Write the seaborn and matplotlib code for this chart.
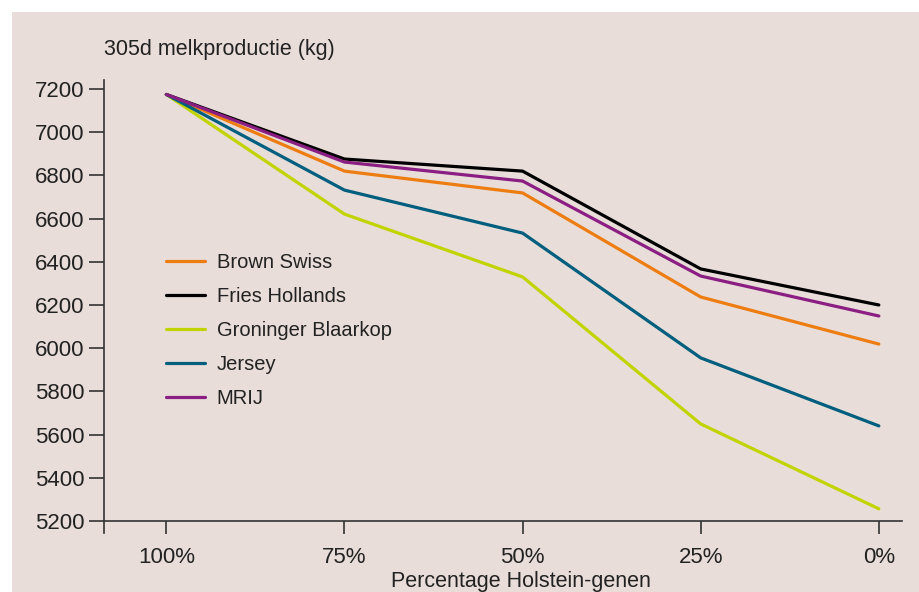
import matplotlib
matplotlib.use("Agg")
import matplotlib.pyplot as plt
from matplotlib.patches import Rectangle
import numpy as np
import pandas as pd
import seaborn as sns

## --- data
categories = ['100%', '75%', '50%', '25%', '0%']
brown_swiss = [7175, 6820, 6719, 6237, 6019]
fries_hollands = [7175, 6876, 6820, 6367, 6200]
groninger_blaarkop = [7175, 6621, 6330, 5649, 5256]
jersey = [7175, 6732, 6533, 5955, 5640]
mrij = [7175, 6862, 6774, 6334, 6149]
y_ticks = [5200, 5400, 5600, 5800, 6000, 6200, 6400, 6600, 6800, 7000, 7200]

breeds = ['Brown Swiss', 'Fries Hollands', 'Groninger Blaarkop', 'Jersey', 'MRIJ']
series = [brown_swiss, fries_hollands, groninger_blaarkop, jersey, mrij]
colors = ['#ee7d11', '#000000', '#c2d400', '#005e7e', '#8b1e83']

rows = []
for name, vals in zip(breeds, series):
    for i, v in enumerate(vals):
        rows.append({'pos': i, 'kg': v, 'ras': name})
df = pd.DataFrame(rows)

sns.set_theme(style='ticks')
plt.rcParams['font.family'] = ['Liberation Sans', 'DejaVu Sans']

bg = '#e8ddd8'
fig = plt.figure(figsize=(9.19, 5.92), dpi=100, facecolor='white')
fig.patches.append(Rectangle((12 / 919, 0), 1, 1 - 12 / 592,
                             transform=fig.transFigure, facecolor=bg,
                             edgecolor='none', zorder=-10))

ax = fig.add_axes([104 / 919, 59 / 592, (902 - 104) / 919, (533 - 80) / 592])
ax.set_facecolor('none')

sns.lineplot(data=df, x='pos', y='kg', hue='ras', palette=colors,
             hue_order=breeds, linewidth=2.3, ax=ax, legend=True)

ax.set_xlim(-0.35, 4.13)
ax.set_ylim(5144, 7242)
ax.set_xticks(range(len(categories)))
ax.set_xticklabels(categories)
ax.set_yticks(y_ticks)
ax.set_xlabel('')
ax.set_ylabel('')

ax.spines['top'].set_visible(False)
ax.spines['right'].set_visible(False)
ax.spines['bottom'].set_position(('data', 5200))
for s in ['left', 'bottom']:
    ax.spines[s].set_color('#333333')
    ax.spines[s].set_linewidth(1.2)
ax.tick_params(axis='y', length=11, width=1.2, color='#333333',
               labelsize=16, labelcolor='#222222', pad=3)
ax.tick_params(axis='x', length=9, width=1.2, color='#333333',
               labelsize=16, labelcolor='#222222', pad=10)

leg = ax.legend(loc='upper left', bbox_to_anchor=(0.068, 0.636), frameon=False,
                fontsize=14.5, handlelength=1.9, handletextpad=0.6,
                labelspacing=0.75, borderaxespad=0)
for t in leg.get_texts():
    t.set_color('#222222')

fig.text(104 / 919, 1 - 49 / 592, '305d melkproductie (kg)', fontsize=15.5,
         color='#222222', va='center', ha='left')
fig.text(521 / 919, 1 - 582 / 592, 'Percentage Holstein-genen', fontsize=15.5,
         color='#222222', va='center', ha='center')

fig.savefig('out.png', dpi=100, facecolor='white')
